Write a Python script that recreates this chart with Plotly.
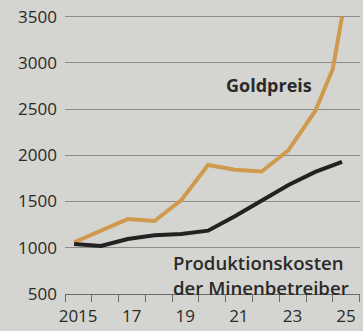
import plotly.graph_objects as go

# Gold price vs. mining production cost, US$ per ounce
years = [2015, 2016, 2017, 2018, 2019, 2020, 2021, 2022, 2023, 2024, 2025]
gold_years = [2015, 2016, 2017, 2018, 2019, 2020, 2021, 2022, 2023, 2024, 2024.65, 2025]
gold_price = [1060, 1185, 1310, 1290, 1515, 1895, 1845, 1825, 2055, 2480, 2930, 3500]
production_cost = [1040, 1020, 1095, 1135, 1150, 1185, 1340, 1505, 1680, 1820, 1930]

y_ticks = [500, 1000, 1500, 2000, 2500, 3000, 3500]
x_tick_years = [2015, 2017, 2019, 2021, 2023, 2025]
x_tick_text = ["2015", "17", "19", "21", "23", "25"]

BG = "#d4d4d0"
INK = "#2a2a2a"
GOLD = "#d09a4e"
FONT = "Open Sans"

fig = go.Figure()
fig.add_trace(go.Scatter(
    x=gold_years, y=gold_price, mode="lines",
    line=dict(color=GOLD, width=4), hoverinfo="skip"))
fig.add_trace(go.Scatter(
    x=years, y=production_cost, mode="lines",
    line=dict(color="#222222", width=4), hoverinfo="skip"))

fig.add_annotation(
    x=2022.27, y=2760, text="<b>Goldpreis</b>", showarrow=False,
    xanchor="center", yanchor="middle",
    font=dict(family=FONT, size=18, color=INK))
fig.add_annotation(
    x=2018.6, y=1000, text="Produktionskosten", showarrow=False,
    xanchor="left", yanchor="top",
    font=dict(family=FONT, size=18.6, color=INK, weight=600))
fig.add_annotation(
    x=2018.6, y=730, text="der Minenbetreiber", showarrow=False,
    xanchor="left", yanchor="top",
    font=dict(family=FONT, size=18.6, color=INK, weight=600))

fig.update_layout(
    width=363, height=331,
    margin=dict(l=65, r=3, t=12, b=37),
    paper_bgcolor=BG, plot_bgcolor=BG,
    showlegend=False,
    font=dict(family=FONT, color=INK),
)
fig.update_xaxes(
    range=[2014.66, 2025.67],
    tickmode="array", tickvals=x_tick_years, ticktext=x_tick_text,
    ticks="", ticklabelshift=4, ticklabelstandoff=6,
    tickfont=dict(family=FONT, size=17, color=INK),
    showgrid=False, zeroline=False,
    showline=True, linecolor="#6a6a6a", linewidth=1.3,
    minor=dict(tick0=2014.66, dtick=1, ticks="outside", ticklen=7,
               tickcolor="#6a6a6a", tickwidth=1.3, showgrid=False),
)
fig.update_yaxes(
    range=[500, 3550],
    tickmode="array", tickvals=y_ticks,
    ticks="", ticklabelstandoff=7,
    tickfont=dict(family=FONT, size=17, color=INK),
    showgrid=True, gridcolor="#8c8c8a", gridwidth=1,
    zeroline=False, showline=False,
)

fig.write_html("out.html")
